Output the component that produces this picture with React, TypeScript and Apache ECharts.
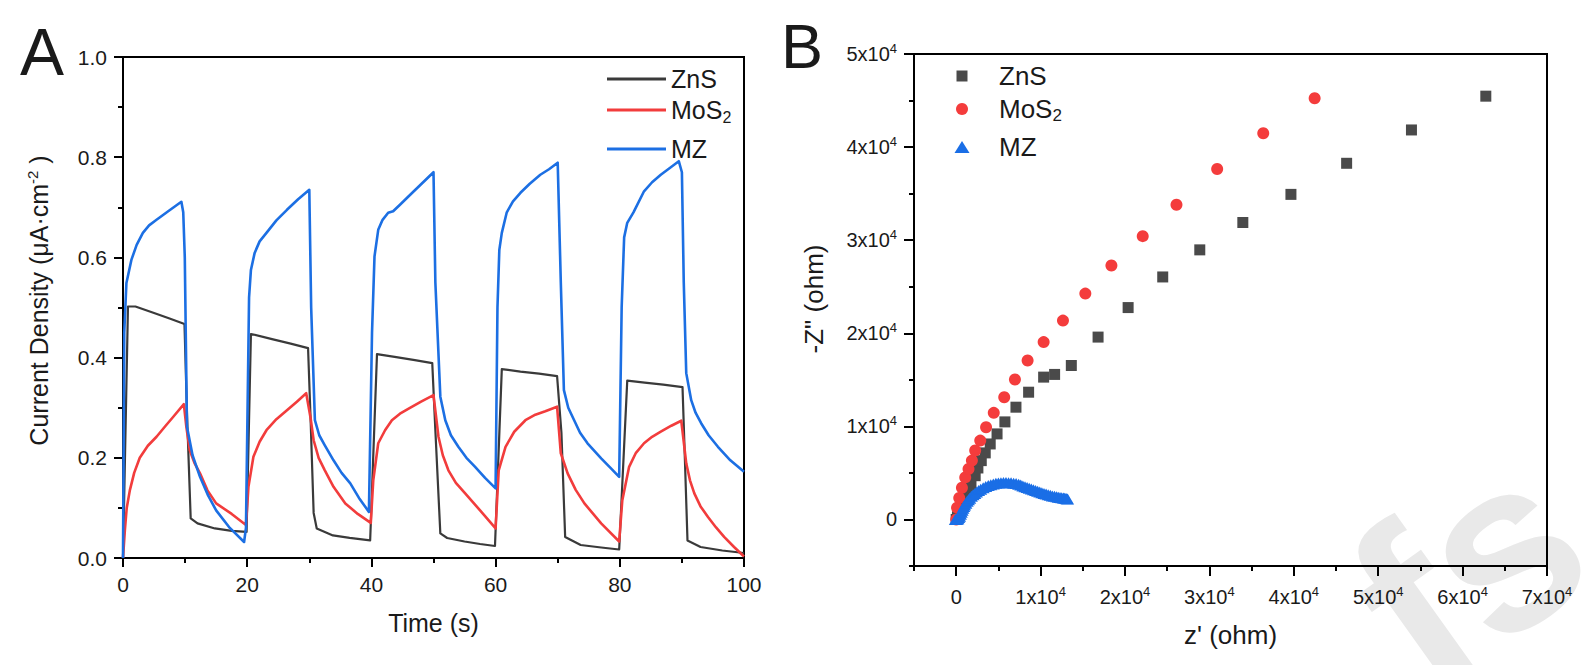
import React, { useEffect, useRef } from 'react';
import * as echarts from 'echarts';

const FONT = '"Liberation Sans", Arial, Helvetica, sans-serif';
const INK = '#1a1a1a';

// ---------- Panel A: photocurrent (Time s, Current Density µA·cm-2) ----------
const seriesNamesA = ['ZnS', 'MoS2', 'MZ'];
const colorsA = ['#3a3a3a', '#f23c3c', '#1c6fe3'];

const znsCurve: [number, number][] = [
  [0, 0], [0.8, 0.502], [2.0, 0.502], [5.0, 0.489], [7.5, 0.478], [9.9, 0.467],
  [10.3, 0.29], [10.9, 0.079], [12.0, 0.069], [14.8, 0.059], [17.5, 0.054], [19.9, 0.052],
  [20.6, 0.447], [21.0, 0.446], [24.0, 0.437], [27.0, 0.428], [29.8, 0.419],
  [30.2, 0.28], [30.7, 0.09], [31.2, 0.059], [33.8, 0.045], [36.5, 0.04], [39.8, 0.035],
  [40.9, 0.407], [44.0, 0.401], [47.0, 0.395], [49.8, 0.389],
  [50.3, 0.255], [51.1, 0.049], [52.2, 0.04], [55.0, 0.033], [57.5, 0.028], [59.9, 0.024],
  [61.0, 0.377], [64.0, 0.372], [67.0, 0.368], [69.9, 0.363],
  [70.6, 0.25], [71.2, 0.042], [73.7, 0.026], [77.0, 0.021], [79.9, 0.017],
  [81.2, 0.354], [84.0, 0.35], [87.0, 0.346], [90.1, 0.341],
  [90.5, 0.19], [90.9, 0.035], [93.0, 0.022], [96.5, 0.015], [100, 0.01],
];

const mos2Curve: [number, number][] = [
  [0, 0], [0.3, 0.055], [0.6, 0.1], [1.1, 0.135], [1.8, 0.17], [2.7, 0.2], [4.0, 0.224], [5.4, 0.242], [6.8, 0.263], [8.1, 0.282], [9.8, 0.307],
  [10.2, 0.262], [10.75, 0.215], [11.5, 0.19], [12.4, 0.169], [13.6, 0.135], [15.0, 0.109], [17.5, 0.088], [19.8, 0.066],
  [20.2, 0.142], [21.0, 0.202], [22.0, 0.232], [23.1, 0.255], [24.7, 0.277], [26.4, 0.295], [28.0, 0.312], [29.5, 0.329],
  [30.2, 0.28], [30.7, 0.235], [31.5, 0.2], [32.5, 0.175], [33.9, 0.142], [35.8, 0.109], [37.8, 0.088], [39.9, 0.07],
  [40.3, 0.155], [41.1, 0.229], [42.2, 0.255], [43.3, 0.275], [44.6, 0.288], [46.0, 0.298], [48.0, 0.312], [50.0, 0.325],
  [50.8, 0.242], [51.5, 0.205], [52.4, 0.175], [53.6, 0.15], [55.1, 0.129], [57.5, 0.095], [60.0, 0.059],
  [60.5, 0.175], [61.6, 0.222], [63.0, 0.252], [64.8, 0.275], [66.4, 0.286], [68.0, 0.293], [69.9, 0.302],
  [70.5, 0.209], [71.6, 0.169], [72.9, 0.136], [74.3, 0.109], [77.0, 0.069], [79.9, 0.033],
  [80.4, 0.115], [81.5, 0.182], [82.6, 0.21], [83.9, 0.229], [85.2, 0.242], [86.6, 0.252], [88.3, 0.264], [89.9, 0.274],
  [90.7, 0.189], [91.3, 0.155], [92.0, 0.129], [93.0, 0.103], [94.2, 0.082], [95.5, 0.061], [96.8, 0.042], [98.4, 0.022], [100, 0.003],
];

const mzCurve: [number, number][] = [
  [0, 0], [0.2, 0.45], [0.55, 0.549], [1.35, 0.595], [2.2, 0.625], [3.2, 0.649], [4.2, 0.664], [5.4, 0.675], [7.5, 0.694], [9.4, 0.711],
  [9.7, 0.69], [9.95, 0.6], [10.3, 0.262], [11.2, 0.205], [12.4, 0.162], [13.7, 0.125], [15.0, 0.095], [17.2, 0.06], [19.5, 0.032],
  [19.8, 0.06], [20.3, 0.52], [20.6, 0.575], [21.2, 0.609], [22.0, 0.632], [23.1, 0.649], [24.7, 0.674], [26.4, 0.695], [28.2, 0.716], [30.0, 0.735],
  [30.3, 0.5], [30.9, 0.275], [31.6, 0.245], [32.5, 0.225], [33.9, 0.195], [35.2, 0.17], [36.6, 0.149], [38.0, 0.12], [39.6, 0.092],
  [40.1, 0.45], [40.5, 0.602], [41.1, 0.655], [41.8, 0.675], [42.7, 0.689], [43.5, 0.692], [44.6, 0.705], [46.0, 0.722], [48.0, 0.746], [50.0, 0.77],
  [50.3, 0.55], [51.1, 0.322], [51.9, 0.275], [52.8, 0.245], [54.0, 0.222], [55.3, 0.2], [56.7, 0.182], [58.3, 0.16], [60.0, 0.139],
  [60.3, 0.5], [60.6, 0.615], [61.0, 0.649], [61.8, 0.69], [62.8, 0.712], [64.0, 0.729], [65.5, 0.747], [67.2, 0.765], [68.6, 0.776], [70.0, 0.789],
  [70.5, 0.55], [71.0, 0.335], [71.7, 0.3], [72.65, 0.275], [73.6, 0.25], [74.8, 0.229], [77.0, 0.199], [78.5, 0.18], [79.9, 0.162],
  [80.3, 0.5], [80.7, 0.64], [81.2, 0.669], [82.2, 0.69], [83.9, 0.732], [85.2, 0.75], [86.6, 0.765], [88.0, 0.778], [89.5, 0.792],
  [90.0, 0.77], [90.3, 0.55], [90.7, 0.369], [91.5, 0.315], [92.2, 0.29], [93.1, 0.269], [94.3, 0.245], [95.8, 0.222], [97.8, 0.195], [100, 0.172],
];

// ---------- Panel B: Nyquist plot (z' ohm, -Z" ohm) ----------
const seriesNamesB = ['ZnS_B', 'MoS2_B', 'MZ_B'];
const colorsB = ['#4a4a4a', '#f43c3c', '#1a6ee6'];
const symbolsB = ['rect', 'circle', 'triangle'];

const znsNyquist: [number, number][] = [
  [0, 0], [150, 300], [400, 800], [700, 1500], [1000, 2200], [1350, 2900], [1750, 3700],
  [2250, 4700], [2570, 5530], [2970, 6320], [3440, 7150], [4030, 8110], [4840, 9190],
  [5770, 10480], [7080, 12060], [8580, 13670], [10360, 15290], [11660, 15580], [13640, 16540],
  [16810, 19590], [20370, 22760], [24470, 26050], [28860, 28960], [33960, 31900],
  [39660, 34920], [46260, 38260], [53940, 41840], [62750, 45470],
];

const mos2Nyquist: [number, number][] = [
  [0, 0], [100, 1270], [360, 2300], [680, 3400], [1070, 4520], [1460, 5420], [1860, 6320],
  [2250, 7400], [2850, 8470], [3540, 9900], [4450, 11450], [5690, 13130], [6960, 15040],
  [8460, 17080], [10360, 19050], [12650, 21360], [15300, 24260], [18390, 27280],
  [22100, 30430], [26100, 33800], [30920, 37640], [36380, 41480], [42470, 45250],
];

const mzNyquist: [number, number][] = [
  [-100, 0], [0, 0], [100, 30], [200, 80], [300, 200], [400, 350], [500, 550], [600, 780],
  [700, 1000], [800, 1200], [900, 1380], [1000, 1550], [1150, 1750], [1300, 1950], [1450, 2120],
  [1600, 2280], [1800, 2480], [2000, 2650], [2200, 2800], [2400, 2950], [2650, 3100],
  [2900, 3250], [3200, 3400], [3500, 3530], [3800, 3650], [4100, 3740], [4400, 3820],
  [4700, 3880], [5000, 3920], [5300, 3945], [5600, 3960], [5900, 3960], [6200, 3950],
  [6500, 3930], [6800, 3900], [7100, 3850], [7400, 3780], [7650, 3700], [7900, 3600],
  [8150, 3510], [8400, 3420], [8650, 3340], [8900, 3260], [9150, 3180], [9400, 3100],
  [9650, 3020], [9900, 2950], [10150, 2870], [10400, 2800], [10650, 2730], [10900, 2660],
  [11150, 2590], [11400, 2530], [11650, 2480], [11900, 2430], [12100, 2390], [12300, 2360],
  [12500, 2330], [12700, 2300], [12850, 2270], [13000, 2250], [13100, 2230], [13200, 2200],
];

// tick labels
const yTicksA = [0, 0.2, 0.4, 0.6, 0.8, 1.0];
const xTicksA = [0, 20, 40, 60, 80, 100];
const xMajorB = [0, 10000, 20000, 30000, 40000, 50000, 60000, 70000];
const xMinorB = [-5000, 5000, 15000, 25000, 35000, 45000, 55000, 65000];
const yMajorB = [0, 10000, 20000, 30000, 40000, 50000];
const yMinorB = [-5000, 5000, 15000, 25000, 35000, 45000];

const seriesDataA = [znsCurve, mos2Curve, mzCurve];
const seriesDataB = [znsNyquist, mos2Nyquist, mzNyquist];

const sciLabel = (v: number) => (v === 0 ? '0' : `{n|${Math.round(v / 10000)}x10}{s|4}`);
const sciRich = {
  n: { fontSize: 20, fontFamily: FONT, color: INK, lineHeight: 24 },
  s: { fontSize: 13, fontFamily: FONT, color: INK, lineHeight: 13, verticalAlign: 'top' },
};

const legendName = (name: string) => {
  const n = name.replace('_B', '');
  return n === 'MoS2' ? '{m|MoS}{s|2}' : n;
};

export default function App() {
  const ref = useRef<HTMLDivElement>(null);

  useEffect(() => {
    document.body.style.margin = '0';
    if (!ref.current) return;
    const chart = echarts.init(ref.current, undefined, { renderer: 'svg' });

    const axisLine = { show: true, onZero: false, lineStyle: { color: '#000', width: 2 } };
    const tickStyle = { color: '#000', width: 2 };

    const legendCentersA = [79, 110, 149];
    const legendCentersB = [76, 109, 147];
    const iconSizesB = [[11, 11], [12, 12], [15, 12]];
    const iconCenterXB = 962;
    const textStartB = 999;

    const legendsA = seriesNamesA.map((name, i) => ({
      data: [name],
      left: 607,
      top: legendCentersA[i] - 15,
      padding: 0,
      itemWidth: 59,
      itemHeight: 3,
      icon: 'rect',
      selectedMode: false,
      formatter: legendName,
      textStyle: {
        fontSize: 25, fontFamily: FONT, color: INK, lineHeight: 30,
        rich: {
          m: { fontSize: 25, fontFamily: FONT, color: INK, lineHeight: 30 },
          s: { fontSize: 16, fontFamily: FONT, color: INK, lineHeight: 12, verticalAlign: 'bottom' },
        },
      },
    }));

    const legendsB = seriesNamesB.map((name, i) => {
      const [w, h] = iconSizesB[i];
      const left = iconCenterXB - w / 2;
      const pad = textStartB - (left + w + 5);
      return {
        data: [name],
        left,
        top: legendCentersB[i] - 15,
        padding: 0,
        itemWidth: w,
        itemHeight: h,
        icon: symbolsB[i],
        selectedMode: false,
        formatter: legendName,
        textStyle: {
          fontSize: 26, fontFamily: FONT, color: INK, lineHeight: 30, padding: [0, 0, 0, pad],
          rich: {
            m: { fontSize: 26, fontFamily: FONT, color: INK, lineHeight: 30 },
            s: { fontSize: 17, fontFamily: FONT, color: INK, lineHeight: 12, verticalAlign: 'bottom' },
          },
        },
      };
    });

    const option: any = {
      animation: false,
      backgroundColor: '#fff',
      textStyle: { fontFamily: FONT },
      grid: [
        { left: 123, top: 57, width: 621, height: 501, show: true, borderColor: '#000', borderWidth: 2, backgroundColor: 'transparent' },
        { left: 914, top: 54, width: 633, height: 512, show: true, borderColor: '#000', borderWidth: 2, backgroundColor: 'transparent' },
      ],
      legend: [...legendsA, ...legendsB],
      xAxis: [
        {
          gridIndex: 0, type: 'value', min: xTicksA[0], max: xTicksA[xTicksA.length - 1], interval: 20,
          axisLine, axisTick: { show: true, length: 9, lineStyle: tickStyle },
          minorTick: { show: true, splitNumber: 2, length: 5, lineStyle: tickStyle },
          splitLine: { show: false }, minorSplitLine: { show: false },
          axisLabel: { margin: 16, fontSize: 21, color: INK, fontFamily: FONT },
          name: 'Time (s)', nameLocation: 'middle', nameGap: 52,
          nameTextStyle: { fontSize: 25, color: INK, fontFamily: FONT },
        },
        {
          gridIndex: 1, type: 'value', position: 'bottom', min: -5000, max: 70000,
          axisLine,
          axisTick: { show: true, length: 10, lineStyle: tickStyle, customValues: xMajorB },
          splitLine: { show: false },
          axisLabel: { margin: 19, fontSize: 20, lineHeight: 24, color: INK, fontFamily: FONT, customValues: xMajorB, formatter: sciLabel, rich: sciRich },
          name: "z' (ohm)", nameLocation: 'middle', nameGap: 56,
          nameTextStyle: { fontSize: 26, color: INK, fontFamily: FONT },
        },
        {
          gridIndex: 1, type: 'value', position: 'bottom', min: -5000, max: 70000,
          axisLine: { show: false, onZero: false },
          axisTick: { show: true, length: 5, lineStyle: tickStyle, customValues: xMinorB },
          splitLine: { show: false },
          axisLabel: { show: false },
        },
      ],
      yAxis: [
        {
          gridIndex: 0, type: 'value', min: yTicksA[0], max: yTicksA[yTicksA.length - 1], interval: 0.2,
          axisLine, axisTick: { show: true, length: 9, lineStyle: tickStyle },
          minorTick: { show: true, splitNumber: 2, length: 5, lineStyle: tickStyle },
          splitLine: { show: false }, minorSplitLine: { show: false },
          axisLabel: { margin: 16, fontSize: 21, color: INK, fontFamily: FONT, formatter: (v: number) => v.toFixed(1) },
          name: '{t|Current Density (μA·cm}{s|-2}{t| )}', nameLocation: 'middle', nameGap: 70, nameRotate: 90,
          nameTextStyle: {
            fontSize: 25, color: INK, fontFamily: FONT, padding: [0, 0, 0, 14],
            rich: {
              t: { fontSize: 25, color: INK, fontFamily: FONT, lineHeight: 28 },
              s: { fontSize: 15, color: INK, fontFamily: FONT, lineHeight: 15, verticalAlign: 'top' },
            },
          },
        },
        {
          gridIndex: 1, type: 'value', position: 'left', min: -5000, max: 50000,
          axisLine,
          axisTick: { show: true, length: 10, lineStyle: tickStyle, customValues: yMajorB },
          splitLine: { show: false },
          axisLabel: { margin: 17, fontSize: 20, lineHeight: 24, color: INK, fontFamily: FONT, customValues: yMajorB, formatter: sciLabel, rich: sciRich },
          name: '-Z" (ohm)', nameLocation: 'middle', nameGap: 87, nameRotate: 90,
          nameTextStyle: { fontSize: 26, color: INK, fontFamily: FONT, padding: [0, 0, 0, 22] },
        },
        {
          gridIndex: 1, type: 'value', position: 'left', min: -5000, max: 50000,
          axisLine: { show: false, onZero: false },
          axisTick: { show: true, length: 5, lineStyle: tickStyle, customValues: yMinorB },
          splitLine: { show: false },
          axisLabel: { show: false },
        },
      ],
      series: [
        ...seriesNamesA.map((name, i) => ({
          name, type: 'line', xAxisIndex: 0, yAxisIndex: 0,
          data: seriesDataA[i], symbol: 'none', showSymbol: false,
          lineStyle: { color: colorsA[i], width: i === 0 ? 2.2 : 2.6, join: 'round' }, itemStyle: { color: colorsA[i] },
          z: 2 + i,
        })),
        ...seriesNamesB.map((name, i) => ({
          name, type: 'scatter', xAxisIndex: 1, yAxisIndex: 1,
          data: seriesDataB[i], symbol: symbolsB[i],
          symbolSize: i === 0 ? 11 : i === 1 ? 12 : [13, 11],
          itemStyle: { color: colorsB[i], opacity: 1 },
          z: 2 + i,
        })),
      ],
      graphic: [
        {
          type: 'text', x: 1468, y: 570, rotation: 0.62, z: -10, silent: true,
          style: { text: 'fs', fontSize: 240, fontWeight: 'bold', fontFamily: FONT, fill: '#e9e9e9',
            align: 'center', verticalAlign: 'middle', textAlign: 'center', textVerticalAlign: 'middle' },
        },
        {
          type: 'text', x: 20, y: 51.5, z: 10,
          style: { text: 'A', fontSize: 66, fontFamily: FONT, fill: INK,
            align: 'left', verticalAlign: 'middle', textAlign: 'left', textVerticalAlign: 'middle' },
        },
        {
          type: 'text', x: 781, y: 45.5, z: 10,
          style: { text: 'B', fontSize: 63, fontFamily: FONT, fill: INK,
            align: 'left', verticalAlign: 'middle', textAlign: 'left', textVerticalAlign: 'middle' },
        },
      ],
    };

    chart.setOption(option);
    return () => chart.dispose();
  }, []);

  return <div ref={ref} style={{ width: 1593, height: 665 }} />;
}
